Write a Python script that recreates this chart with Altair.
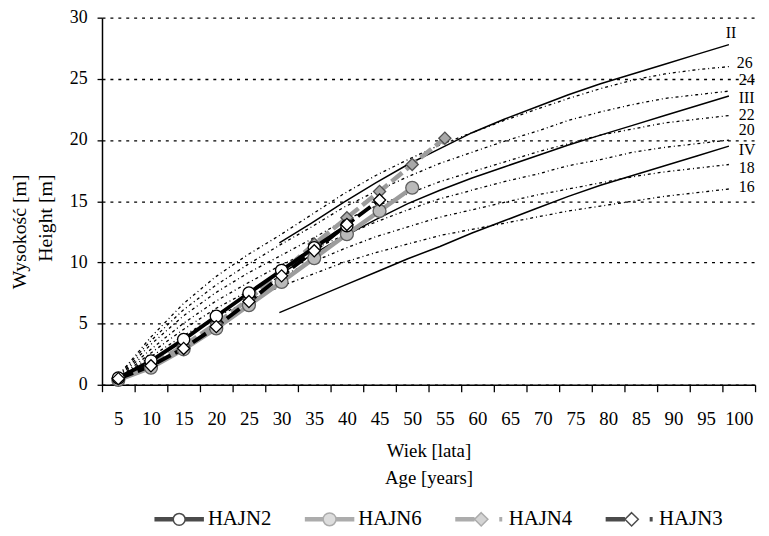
import altair as alt
import pandas as pd

# ---------------- data ----------------
AGES = [5, 10, 15, 20, 25, 30, 35, 40, 45, 50, 55, 60, 65, 70, 75, 80, 85, 90, 95, 100]
CLASS_AGES = [30, 35, 40, 45, 50, 55, 60, 65, 70, 75, 80, 85, 90, 95, 100]

si16 = [0.6, 2.3, 4.0, 5.5, 6.8, 8.0, 9.0, 10.0, 10.8, 11.5, 12.2, 12.7, 13.2, 13.7, 14.2, 14.6, 15.0, 15.4, 15.7, 16.0]
si18 = [0.6, 2.6, 4.5, 6.2, 7.6, 8.8, 10.0, 11.1, 12.1, 12.9, 13.7, 14.3, 14.9, 15.5, 16.0, 16.5, 17.0, 17.4, 17.7, 18.0]
si20 = [0.7, 2.9, 5.0, 6.8, 8.3, 9.7, 11.0, 12.2, 13.3, 14.3, 15.2, 15.9, 16.6, 17.2, 17.9, 18.4, 19.0, 19.4, 19.7, 20.0]
si22 = [0.7, 3.3, 5.6, 7.5, 9.1, 10.5, 11.9, 13.4, 14.6, 15.6, 16.6, 17.4, 18.2, 19.0, 19.7, 20.4, 20.9, 21.4, 21.7, 22.0]
si24 = [0.8, 3.6, 6.1, 8.1, 9.8, 11.4, 12.9, 14.5, 15.8, 17.0, 18.1, 19.0, 19.9, 20.7, 21.6, 22.3, 22.9, 23.4, 23.7, 24.0]
si26 = [0.8, 3.9, 6.6, 8.8, 10.6, 12.2, 13.9, 15.6, 17.1, 18.4, 19.6, 20.6, 21.6, 22.5, 23.4, 24.2, 24.9, 25.4, 25.75, 26.0]

cls_II = [11.6, 13.2, 14.9, 16.5, 18.0, 19.3, 20.6, 21.7, 22.7, 23.7, 24.6, 25.4, 26.2, 27.0, 27.8]
cls_III = [9.0, 10.6, 12.1, 13.5, 14.8, 15.9, 16.9, 17.8, 18.7, 19.6, 20.4, 21.2, 22.0, 22.8, 23.6]
cls_IV = [5.9, 7.0, 8.1, 9.2, 10.3, 11.3, 12.4, 13.4, 14.4, 15.4, 16.3, 17.1, 17.9, 18.7, 19.5]

hajn2_age = [5, 10, 15, 20, 25, 30, 35, 40]
hajn2_h = [0.55, 1.95, 3.7, 5.6, 7.5, 9.35, 11.2, 13.0]
hajn6_age = [5, 10, 15, 20, 25, 30, 35, 40, 45, 50]
hajn6_h = [0.4, 1.4, 2.9, 4.6, 6.5, 8.4, 10.35, 12.3, 14.2, 16.1]
hajn4_age = [5, 10, 15, 20, 25, 30, 35, 40, 45, 50, 55]
hajn4_h = [0.5, 1.6, 3.2, 5.0, 7.0, 9.2, 11.5, 13.65, 15.8, 18.0, 20.15]
hajn3_age = [5, 10, 15, 20, 25, 30, 35, 40, 45]
hajn3_h = [0.5, 1.55, 2.97, 4.75, 6.8, 8.9, 10.95, 13.1, 15.1]

SERIES = ["HAJN2", "HAJN6", "HAJN4", "HAJN3"]
X_TICKS = [2.5 + 5 * i for i in range(21)]
Y_TICKS = [0, 5, 10, 15, 20, 25, 30]

# ---------------- tables ----------------
si_sets = [("16", si16), ("18", si18), ("20", si20), ("22", si22), ("24", si24), ("26", si26)]
cls_sets = [("II", cls_II), ("III", cls_III), ("IV", cls_IV)]

si_df = pd.DataFrame([{"curve": n, "age": a, "h": h} for n, v in si_sets for a, h in zip(AGES, v)])
cls_df = pd.DataFrame([{"curve": n, "age": a, "h": h} for n, v in cls_sets for a, h in zip(CLASS_AGES, v)])
obs = {"HAJN2": (hajn2_age, hajn2_h), "HAJN6": (hajn6_age, hajn6_h),
       "HAJN4": (hajn4_age, hajn4_h), "HAJN3": (hajn3_age, hajn3_h)}
label_df = pd.DataFrame([{"label": n, "age": AGES[-1], "h": v[-1]} for n, v in si_sets + cls_sets])
legend_df = pd.DataFrame({"series": SERIES})

# ---------------- styles ----------------
FONT = "Liberation Serif, Times New Roman, Times, serif"
LINE_STYLE = {
    "HAJN6": dict(color="#9c9c9c", strokeWidth=4.5),
    "HAJN4": dict(color="#9c9c9c", strokeWidth=4.5, strokeDash=[14, 5]),
    "HAJN3": dict(color="#000000", strokeWidth=4, strokeDash=[16, 5]),
    "HAJN2": dict(color="#000000", strokeWidth=4),
}
MARK_STYLE = {
    "HAJN6": dict(shape="circle", fill="#bababa", stroke="#5e5e5e", size=170),
    "HAJN4": dict(shape="diamond", fill="#a8a8a8", stroke="#505050", size=150),
    "HAJN2": dict(shape="circle", fill="#ffffff", stroke="#000000", size=150),
    "HAJN3": dict(shape="diamond", fill="#ffffff", stroke="#000000", size=150),
}
LABEL_STYLE = {
    "II": dict(dx=2, dy=-12, align="center"),
    "26": dict(dx=8, dy=-4, align="left"),
    "24": dict(dx=10, dy=-11, align="left"),
    "III": dict(dx=10, dy=2, align="left"),
    "22": dict(dx=10, dy=-1, align="left"),
    "20": dict(dx=10, dy=-10, align="left"),
    "IV": dict(dx=10, dy=4, align="left"),
    "18": dict(dx=10, dy=4, align="left"),
    "16": dict(dx=10, dy=-2, align="left"),
}
THICK = "M-1,-0.06H{a}M-1,0H{a}M-1,0.06H{a}"
THICK_R = "M{a},-0.06H1M{a},0H1M{a},0.06H1"
CIRCLE = "M-{r},0A{r},{r} 0 1,0 {r},0A{r},{r} 0 1,0 -{r},0Z"
DIAMOND = "M{c},-0.27L{p},0L{c},0.27L{m},0Z"
DOT = "M0.78,-0.06H0.9M0.78,0H0.9M0.78,0.06H0.9"
LEGEND_SHAPES = [
    THICK.format(a=-0.25) + THICK_R.format(a=0.25) + CIRCLE.format(r=0.24),
    THICK.format(a=-0.27) + THICK_R.format(a=0.27) + CIRCLE.format(r=0.26),
    THICK.format(a=-0.22) + DIAMOND.format(c=0.05, p=0.32, m=-0.22) + DOT,
    THICK.format(a=-0.22) + DIAMOND.format(c=0.05, p=0.32, m=-0.22) + DOT,
]
LEGEND_FILLS = ["#ffffff", "#bababa", "#a8a8a8", "#ffffff"]
LEGEND_STROKES = ["#000000", "#8a8a8a", "#8a8a8a", "#000000"]

# ---------------- encodings ----------------
X_MAIN = alt.Scale(domain=[2.5, 102.5], nice=False, zero=False)
X_CURVE = alt.Scale(domain=[2.38, 104.07], nice=False, zero=False)

x_axis = alt.Axis(
    values=X_TICKS, labelExpr="datum.value > 100 ? '' : format(datum.value + 2.5, 'd')",
    labelOffset=16.5, labelFlush=False, labelOverlap=False, labelBound=False,
    labelFont=FONT, labelFontSize=19, labelColor="black", labelPadding=18,
    tickSize=7, tickColor="black", tickWidth=1.3, domainColor="black", domainWidth=1.5,
    grid=False, title=["Wiek [lata]", "Age [years]"], titleFont=FONT, titleFontSize=19,
    titleFontWeight="normal", titleColor="black", titleLineHeight=28,
    titleX=330, titleY=72, titleAlign="center", titleBaseline="alphabetic",
)
y_axis = alt.Axis(
    values=Y_TICKS, grid=True, gridDash=[3, 5], gridColor="#000000", gridWidth=1.3,
    labelFont=FONT, labelFontSize=18, labelColor="black", labelPadding=10,
    tickSize=5, tickColor="black", tickWidth=1.3, domainColor="black", domainWidth=1.5,
    title=["Wysokość [m]", "Height [m]"], titleFont=FONT, titleFontSize=20,
    titleFontWeight="normal", titleColor="black", titleAngle=270, titleAlign="right",
    titleBaseline="alphabetic", titleX=-77, titleY=158, titleLineHeight=26,
)


def ye():
    return alt.Y("h:Q", scale=alt.Scale(domain=[0, 30], nice=False), axis=y_axis)


layers = []
# site-index curves (dotted)
layers.append(
    alt.Chart(si_df).mark_line(color="black", strokeWidth=1.3, strokeDash=[3, 3, 1, 3]).encode(
        x=alt.X("age:Q", scale=X_CURVE, axis=None), y=ye(), detail="curve:N")
)
# site-class curves (solid)
layers.append(
    alt.Chart(cls_df).mark_line(color="black", strokeWidth=1.5).encode(
        x=alt.X("age:Q", scale=X_CURVE, axis=None), y=ye(), detail="curve:N")
)
# observed series lines
first = True
for s in ["HAJN6", "HAJN4", "HAJN3", "HAJN2"]:
    a, h = obs[s]
    df = pd.DataFrame({"age": a, "h": h})
    layers.append(
        alt.Chart(df).mark_line(**LINE_STYLE[s]).encode(
            x=alt.X("age:Q", scale=X_MAIN, axis=x_axis if first else None), y=ye())
    )
    first = False
# observed series markers
for s in ["HAJN6", "HAJN4", "HAJN2", "HAJN3"]:
    a, h = obs[s]
    df = pd.DataFrame({"age": a, "h": h})
    layers.append(
        alt.Chart(df).mark_point(filled=True, opacity=1, strokeWidth=1.3, **MARK_STYLE[s]).encode(
            x=alt.X("age:Q", scale=X_MAIN, axis=None), y=ye())
    )
# curve labels
for lab, st in LABEL_STYLE.items():
    layers.append(
        alt.Chart(label_df).transform_filter(alt.datum.label == lab).mark_text(
            font=FONT, fontSize=16, color="black", baseline="middle", **st).encode(
            x=alt.X("age:Q", scale=X_CURVE, axis=None), y=ye(), text="label:N")
    )
# legend (symbols only, no plotted marks)
leg = alt.Legend(orient="none", legendX=52, legendY=481, direction="horizontal", columns=4,
                 symbolSize=2500, symbolStrokeWidth=1.5, labelFont=FONT, labelFontSize=21,
                 labelColor="black", labelOffset=3, columnPadding=30, title=None)
layers.append(
    alt.Chart(legend_df).transform_filter("false").mark_point(filled=True, size=2500, strokeWidth=1.5).encode(
        shape=alt.Shape("series:N", scale=alt.Scale(domain=SERIES, range=LEGEND_SHAPES), legend=leg),
        fill=alt.Fill("series:N", scale=alt.Scale(domain=SERIES, range=LEGEND_FILLS), legend=leg),
        stroke=alt.Stroke("series:N", scale=alt.Scale(domain=SERIES, range=LEGEND_STROKES), legend=leg),
    )
)

chart = alt.layer(*layers).resolve_scale(x="independent").properties(
    width=660, height=371,
    autosize=alt.AutoSizeParams(type="none"),
    padding={"left": 95, "top": 7, "right": 6, "bottom": 144},
    background="white",
).configure(font=FONT).configure_view(stroke="transparent")

chart.save("out.html", embed_options={"renderer": "svg", "actions": False})
